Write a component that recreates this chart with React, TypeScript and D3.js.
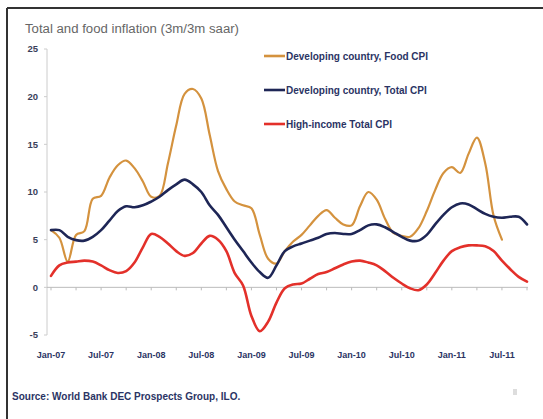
import React from "react";
import * as d3 from "d3";

const W = 543;
const H = 419;

const titleText = "Total and food inflation (3m/3m saar)";
const sourceText = "Source: World Bank DEC Prospects Group, ILO.";

const seriesNames = [
  "Developing country, Food CPI",
  "Developing country, Total CPI",
  "High-income Total CPI",
];
const seriesColors = ["#d4923e", "#1e2656", "#e3302a"];

// monthly, index 0 = Jan-07
const foodCPI = [
  6.0, 5.2, 2.7, 5.5, 5.9, 9.3, 9.6, 11.5, 12.8, 13.3, 12.5, 11.1,
  9.5, 9.6, 13.0, 17.0, 20.3, 20.8, 19.8, 16.0, 12.2, 10.3, 9.0, 8.6,
  8.3, 5.5, 3.0, 2.5, 3.8, 4.8, 5.5, 6.5, 7.5, 8.1, 7.3, 6.6,
  6.5, 8.5, 10.0, 9.2, 7.2, 5.7, 5.4, 5.3, 6.2, 8.0, 10.2, 12.0,
  12.6, 12.0, 14.0, 15.7, 13.0, 7.5, 5.0,
];
const totalCPI = [
  6.0, 6.0, 5.3, 4.95, 4.9, 5.3, 6.0, 7.0, 8.0, 8.5, 8.4, 8.6,
  9.0, 9.5, 10.2, 10.8, 11.3, 10.8, 10.0, 8.6, 7.6, 6.3, 5.0, 3.8,
  2.6, 1.6, 1.0, 2.3, 3.8, 4.3, 4.6, 4.9, 5.2, 5.6, 5.7, 5.6,
  5.6, 6.0, 6.5, 6.6, 6.3, 5.8, 5.3, 4.9, 4.9, 5.5, 6.6, 7.6,
  8.4, 8.8, 8.7, 8.2, 7.7, 7.4, 7.3, 7.4, 7.4, 6.6,
];
const highIncomeCPI = [
  1.2, 2.3, 2.6, 2.7, 2.8, 2.7, 2.3, 1.8, 1.5, 1.7, 2.6, 4.2,
  5.6, 5.3, 4.6, 3.8, 3.3, 3.6, 4.6, 5.4, 5.0, 3.8, 1.5, 0.2,
  -3.0, -4.6, -3.6, -1.6, -0.1, 0.3, 0.4, 0.9, 1.4, 1.6, 2.0, 2.4,
  2.7, 2.8, 2.6, 2.3, 1.7, 1.0, 0.4, -0.1, -0.3, 0.3, 1.5, 2.8,
  3.8, 4.2, 4.4, 4.4, 4.3, 3.8, 2.8, 1.9, 1.1, 0.6,
];

const xTickMonths = [0, 6, 12, 18, 24, 30, 36, 42, 48, 54];
const xTickLabels = ["Jan-07", "Jul-07", "Jan-08", "Jul-08", "Jan-09", "Jul-09", "Jan-10", "Jul-10", "Jan-11", "Jul-11"];
const yTicks = [-5, 0, 5, 10, 15, 20, 25];

export default function App() {
  const x = d3.scaleLinear().domain([0, 57]).range([51, 527]);
  const y = d3.scaleLinear().domain([-5, 25]).range([335, 49]);

  const line = d3
    .line<number>()
    .x((_, i) => x(i))
    .y((d) => y(d))
    .curve(d3.curveCatmullRom.alpha(0.5));

  const all = [foodCPI, totalCPI, highIncomeCPI];
  const minorTicks = d3.range(0, 58, 3);
  const labelColor = "#2b3464";
  const font = "Arial, 'Liberation Sans', sans-serif";

  return (
    <svg
      width={W}
      height={H}
      style={{ position: "absolute", left: 0, top: 0, background: "#fff" }}
    >
      <rect x={0} y={0} width={W} height={H} fill="#fff" />
      {/* frame */}
      <line x1={7} y1={8} x2={W} y2={8} stroke="#333" strokeWidth={2} />
      <line x1={7} y1={8} x2={7} y2={H} stroke="#333" strokeWidth={2} />

      <text
        x={25}
        y={33}
        fontFamily={font}
        fontSize={12.5}
        fill="#666"
        textLength={214}
        lengthAdjust="spacingAndGlyphs"
      >
        {titleText}
      </text>

      {/* y axis */}
      <line x1={47} y1={y(25)} x2={47} y2={y(-5)} stroke="#ccc" strokeWidth={1} />
      {yTicks.map((t) => (
        <g key={t}>
          <line x1={44} x2={47} y1={y(t)} y2={y(t)} stroke="#ccc" />
          <text
            x={38}
            y={y(t)}
            dy="0.35em"
            textAnchor="end"
            fontFamily={font}
            fontSize={9.5}
            fontWeight="bold"
            fill="#3a3f5a"
          >
            {t}
          </text>
        </g>
      ))}

      {/* zero line */}
      <line x1={47} x2={528} y1={y(0)} y2={y(0)} stroke="#bbb" strokeWidth={1} />
      {minorTicks.map((m) => (
        <line key={m} x1={x(m)} x2={x(m)} y1={y(0)} y2={y(0) + 3} stroke="#bbb" />
      ))}

      {xTickMonths.map((m, i) => (
        <text
          key={m}
          x={x(m)}
          y={355}
          dy="0.35em"
          textAnchor="middle"
          fontFamily={font}
          fontSize={9}
          fontWeight="bold"
          fill={labelColor}
        >
          {xTickLabels[i]}
        </text>
      ))}

      {/* series */}
      {all.map((s, k) => (
        <path
          key={k}
          d={line(s) || ""}
          fill="none"
          stroke={seriesColors[k]}
          strokeWidth={k === 0 ? 2.2 : 2.6}
          strokeLinejoin="round"
          strokeLinecap="round"
        />
      ))}

      {/* legend */}
      {seriesNames.map((n, k) => {
        const ly = 56 + k * 34;
        return (
          <g key={n}>
            <line x1={264} x2={285} y1={ly} y2={ly} stroke={seriesColors[k]} strokeWidth={2.6} />
            <text
              x={286}
              y={ly}
              dy="0.35em"
              fontFamily={font}
              fontSize={10}
              fontWeight="bold"
              fill={labelColor}
            >
              {n}
            </text>
          </g>
        );
      })}

      <text
        x={12}
        y={396}
        dy="0.35em"
        fontFamily={font}
        fontSize={10}
        fontWeight="bold"
        fill={labelColor}
      >
        {sourceText}
      </text>
      <rect x={513} y={389} width={4} height={6} fill="#ddd" />
    </svg>
  );
}
